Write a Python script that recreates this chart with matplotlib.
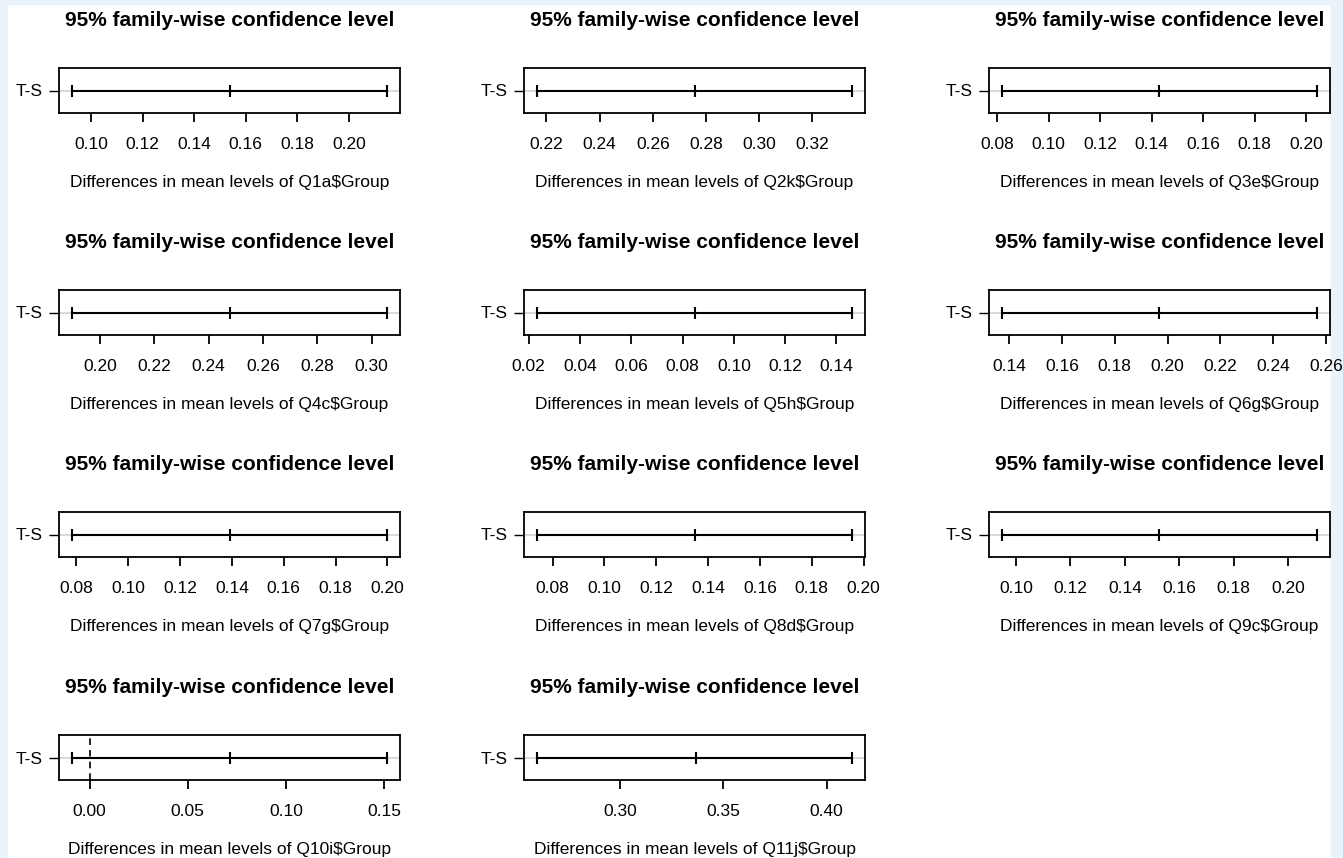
import numpy as np
import matplotlib
matplotlib.use("Agg")
import matplotlib.pyplot as plt
from matplotlib.patches import Rectangle

plt.rcParams['font.family'] = ['Liberation Sans', 'DejaVu Sans']

# Tukey HSD results, one comparison (T-S) per question
questions = ["Q1a", "Q2k", "Q3e", "Q4c", "Q5h", "Q6g", "Q7g", "Q8d", "Q9c", "Q10i", "Q11j"]
lwr = [0.0925, 0.2163, 0.0818, 0.1895, 0.0231, 0.1371, 0.0782, 0.0738, 0.0947, -0.0092, 0.2595]
diff = [0.1538, 0.2760, 0.1427, 0.2477, 0.0849, 0.1966, 0.1392, 0.1350, 0.1524, 0.0714, 0.3365]
upr = [0.2149, 0.3351, 0.2043, 0.3058, 0.1462, 0.2568, 0.2000, 0.1957, 0.2107, 0.1517, 0.4125]
comparison = "T-S"

tick_vals = [
    [0.10, 0.12, 0.14, 0.16, 0.18, 0.20],
    [0.22, 0.24, 0.26, 0.28, 0.30, 0.32],
    [0.08, 0.10, 0.12, 0.14, 0.16, 0.18, 0.20],
    [0.20, 0.22, 0.24, 0.26, 0.28, 0.30],
    [0.02, 0.04, 0.06, 0.08, 0.10, 0.12, 0.14],
    [0.14, 0.16, 0.18, 0.20, 0.22, 0.24, 0.26],
    [0.08, 0.10, 0.12, 0.14, 0.16, 0.18, 0.20],
    [0.08, 0.10, 0.12, 0.14, 0.16, 0.18, 0.20],
    [0.10, 0.12, 0.14, 0.16, 0.18, 0.20],
    [0.00, 0.05, 0.10, 0.15],
    [0.30, 0.35, 0.40],
]

W, H = 1343, 858
fig = plt.figure(figsize=(W / 100, H / 100), dpi=100)
fig.patch.set_facecolor("white")

# light blue frame of the screenshot
edge = "#e9f3fb"
fig.patches.append(Rectangle((0, 0), 7 / W, 1, transform=fig.transFigure, color=edge, zorder=-5))
fig.patches.append(Rectangle((1 - 12 / W, 0), 12 / W, 1, transform=fig.transFigure, color=edge, zorder=-5))
fig.patches.append(Rectangle((0, 1 - 4 / H), 1, 4 / H, transform=fig.transFigure, color=edge, zorder=-5))

col_left = [59, 524, 989]
row_top = [68, 290, 512, 735]
box_w, box_h = 341, 45

for i, q in enumerate(questions):
    r, c = divmod(i, 3)
    x0 = col_left[c]
    y0 = row_top[r]
    ax = fig.add_axes([x0 / W, 1 - (y0 + box_h) / H, box_w / W, box_h / H])

    ax.axhline(1, color="#d3d3d3", lw=1.2, zorder=1)
    ax.axvline(0, color="black", lw=1.2, ls=(0, (4, 3)), zorder=2)
    ax.plot([lwr[i], upr[i]], [1, 1], color="black", lw=1.5, zorder=3)
    ax.plot([lwr[i], diff[i], upr[i]], [1, 1, 1], ls="none", marker="|",
            ms=9, mew=1.5, color="black", zorder=4)

    span = upr[i] - lwr[i]
    ax.set_xlim(lwr[i] - 0.04 * span, upr[i] + 0.04 * span)
    ax.set_ylim(0.5, 1.5)

    ax.set_xticks(tick_vals[i])
    ax.set_xticklabels([f"{t:.2f}" for t in tick_vals[i]])
    ax.set_yticks([1])
    ax.set_yticklabels([comparison])
    ax.tick_params(axis="x", length=6.5, width=1.3, pad=10.5, labelsize=12.5)
    ax.tick_params(axis="y", length=7.5, width=1.0, pad=4, labelsize=12.5)
    for s in ax.spines.values():
        s.set_linewidth(1.3)

    ax.set_title("95% family-wise confidence level", fontsize=15, fontweight="bold", pad=30.5)
    ax.set_xlabel(f"Differences in mean levels of {q}$Group".replace("$", r"\$"),
                  fontsize=12.5, labelpad=17)

fig.savefig("out.png", dpi=100)
